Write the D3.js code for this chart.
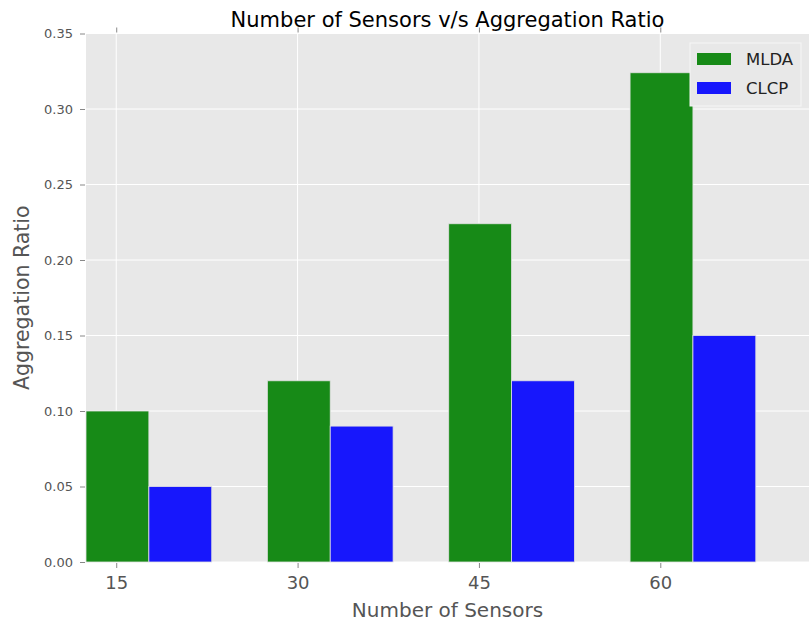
<!DOCTYPE html>
<html>
<head>
<meta charset="utf-8">
<script src="https://cdn.jsdelivr.net/npm/d3@7"></script>
<style>
  body { margin: 0; background: #fff; }
  svg { display: block; }
  svg text { font-family: "DejaVu Sans", sans-serif; }
</style>
</head>
<body>
<div id="chart"></div>
<script>
const sensors = [15, 30, 45, 60];
const mlda = [0.10, 0.12, 0.224, 0.324];
const clcp = [0.05, 0.09, 0.12, 0.15];
const seriesNames = ["MLDA", "CLCP"];
const yTicks = [0, 0.05, 0.10, 0.15, 0.20, 0.25, 0.30, 0.35];

const width = 809, height = 625;
const margin = {top: 33.5, right: 0, bottom: 63, left: 86};
const plotW = width - margin.left - margin.right;
const plotH = height - margin.top - margin.bottom;

const colors = {"MLDA": "#178a17", "CLCP": "#1717fc"};
const barWidth = 5.2;

const svg = d3.select("#chart").append("svg")
    .attr("width", width)
    .attr("height", height);

const g = svg.append("g")
    .attr("transform", `translate(${margin.left},${margin.top})`);

const x = d3.scaleLinear()
    .domain([12.5, 72.3])
    .range([0, plotW]);

const y = d3.scaleLinear()
    .domain([0, 0.35])
    .range([plotH, 0]);

// background
g.append("rect")
    .attr("width", plotW)
    .attr("height", plotH)
    .attr("fill", "#e8e8e8");

// grid
g.selectAll(".hgrid").data(yTicks).enter()
    .append("line")
    .attr("x1", 0).attr("x2", plotW)
    .attr("y1", d => y(d)).attr("y2", d => y(d))
    .attr("stroke", "#fff").attr("stroke-width", 1);

g.selectAll(".vgrid").data(sensors).enter()
    .append("line")
    .attr("x1", d => x(d)).attr("x2", d => x(d))
    .attr("y1", 0).attr("y2", plotH)
    .attr("stroke", "#fff").attr("stroke-width", 1);

// bars
const data = sensors.map((s, i) => ({s: s, MLDA: mlda[i], CLCP: clcp[i]}));
seriesNames.forEach((name, k) => {
    g.selectAll(".bar-" + name).data(data).enter()
        .append("rect")
        .attr("x", d => x(d.s - 2.5 + k * barWidth))
        .attr("width", x(12.5 + barWidth) - x(12.5))
        .attr("y", d => y(d[name]))
        .attr("height", d => y(0) - y(d[name]))
        .attr("fill", colors[name])
        .attr("stroke", "#e0e0e0")
        .attr("stroke-width", 0.8);
});

// axes
const yAxis = d3.axisLeft(y)
    .tickValues(yTicks)
    .tickFormat(d3.format(".2f"))
    .tickSize(5)
    .tickPadding(8);

const yg = g.append("g").call(yAxis).attr("font-family", null);
yg.select(".domain").remove();
yg.selectAll(".tick line").attr("stroke", "#888").attr("transform", "translate(-1,0)");
yg.selectAll(".tick text").attr("fill", "#555").style("font-size", "13px");

const xAxis = d3.axisBottom(x)
    .tickValues(sensors)
    .tickFormat(d3.format("d"))
    .tickSize(5)
    .tickPadding(8);

const xg = g.append("g")
    .attr("transform", `translate(0,${plotH + 1})`)
    .call(xAxis)
    .attr("font-family", null);
xg.select(".domain").remove();
xg.selectAll(".tick line").attr("stroke", "#888");
xg.selectAll(".tick text").attr("fill", "#555").style("font-size", "18px");

// top ticks
const xTop = g.append("g")
    .attr("transform", "translate(0,-1)")
    .call(d3.axisTop(x).tickValues(sensors).tickSize(5).tickFormat(""));
xTop.select(".domain").remove();
xTop.selectAll(".tick line").attr("stroke", "#888");

// legend
const legend = g.append("g")
    .attr("transform", `translate(${690 - margin.left},${43 - margin.top})`);

legend.append("rect")
    .attr("width", 111)
    .attr("height", 63)
    .attr("fill", "#e8e8e8")
    .attr("stroke", "#f6f6f6")
    .attr("stroke-width", 1);

seriesNames.forEach((name, i) => {
    const item = legend.append("g")
        .attr("transform", `translate(7,${10 + i * 29})`);
    item.append("rect")
        .attr("width", 34)
        .attr("height", 12)
        .attr("fill", colors[name]);
    item.append("text")
        .attr("x", 49)
        .attr("y", 12)
        .attr("fill", "#222")
        .style("font-size", "16.5px")
        .text(name);
});

// title and labels
svg.append("text")
    .attr("x", margin.left + plotW / 2)
    .attr("y", 27)
    .attr("text-anchor", "middle")
    .attr("fill", "#000")
    .style("font-size", "21px")
    .text("Number of Sensors v/s Aggregation Ratio");

svg.append("text")
    .attr("x", margin.left + plotW / 2)
    .attr("y", 617)
    .attr("text-anchor", "middle")
    .attr("fill", "#555")
    .style("font-size", "20px")
    .text("Number of Sensors");

svg.append("text")
    .attr("transform", `translate(29,${margin.top + plotH / 2}) rotate(-90)`)
    .attr("text-anchor", "middle")
    .attr("fill", "#555")
    .style("font-size", "20.5px")
    .text("Aggregation Ratio");
</script>
</body>
</html>
